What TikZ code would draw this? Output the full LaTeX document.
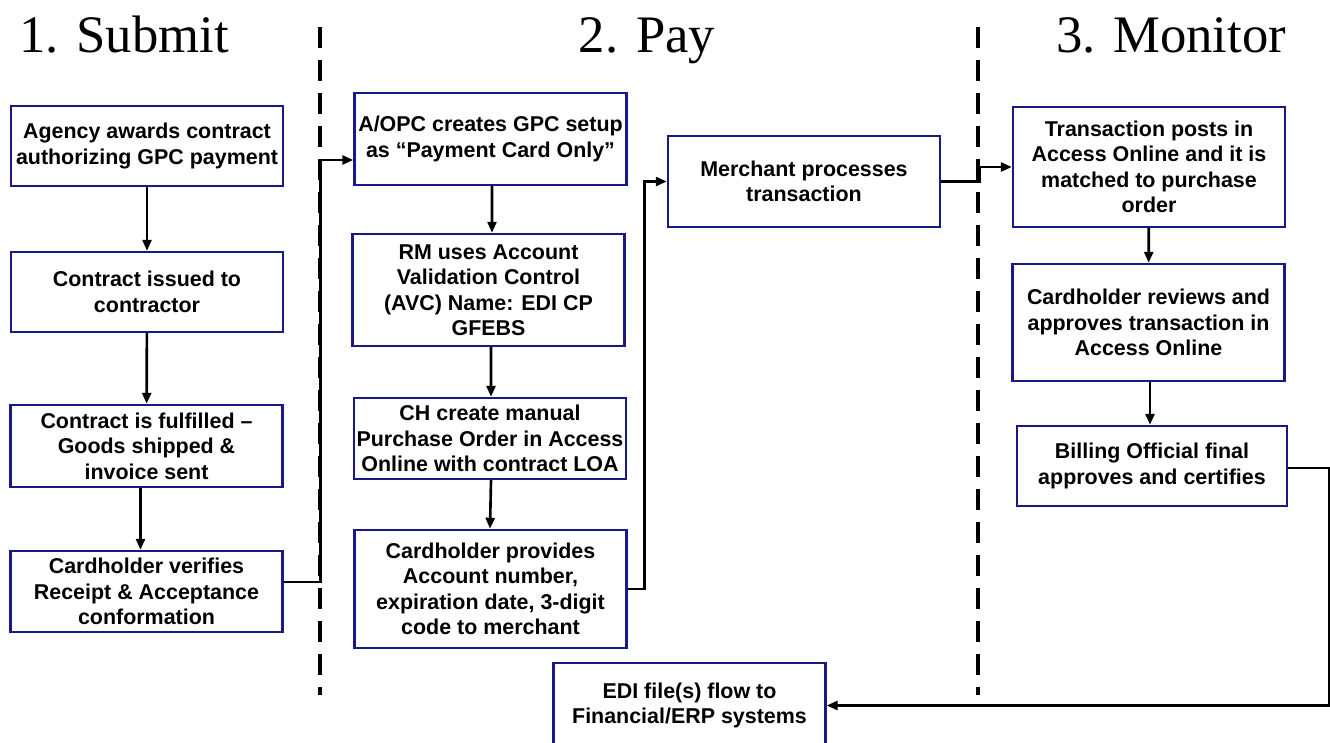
\documentclass[tikz,border=0pt]{standalone}
\usepackage{fontspec}
\setmainfont{Liberation Sans}
\newfontfamily\titlefont{Liberation Serif}
\usetikzlibrary{arrows.meta}
\definecolor{boxblue}{RGB}{24,24,135}

\begin{document}
\begin{tikzpicture}[x=0.02cm,y=-0.02cm,
    procbox/.style={draw=boxblue,line width=1.4pt,fill=white,inner sep=0pt,align=center,
      minimum width=5.44cm,font=\fontsize{12.2}{14.5}\selectfont\bfseries},
    flow/.style={-{Triangle[length=2.2mm,width=1.8mm]},line width=1.5pt},
    lane/.style={line width=2.4pt,dash pattern=on 0.42cm off 0.24cm},
    phase/.style={anchor=base,font=\titlefont\fontsize{30}{34}\selectfont}]
  \useasboundingbox (0,0) rectangle (1330,743);

  % phase titles
  \node[phase] (tsubmit)  at (124,53)  {1. Submit};
  \node[phase] (tpay)     at (647,53)  {2. Pay};
  \node[phase] (tmonitor) at (1171,53) {3. Monitor};

  % lane separators
  \draw[lane] (320,27) -- (320,695);
  \draw[lane] (978,27) -- (978,695);

  % submit
  \node[procbox,minimum height=1.6cm]  (award)   at (147,146)   {Agency awards contract\\authorizing GPC payment};
  \node[procbox,minimum height=1.6cm]  (issued)  at (147,292)   {Contract issued to\\contractor};
  \node[procbox,minimum height=1.64cm] (fulfil)  at (146.5,446) {Contract is fulfilled –\\Goods shipped \&\\invoice sent};
  \node[procbox,minimum height=1.62cm] (verify)  at (146.5,591.5) {Cardholder verifies\\Receipt \& Acceptance\\conformation};

  % pay
  \node[procbox,minimum height=1.84cm] (setup)   at (490.5,139) {A/OPC creates GPC setup\\as “Payment Card Only”};
  \node[procbox,minimum height=2.24cm] (avc)     at (488.5,290) {RM uses Account\\Validation Control\\(AVC) Name: EDI CP\\GFEBS};
  \node[procbox,minimum height=1.62cm] (order)   at (490,438.5) {CH create manual\\Purchase Order in Access\\Online with contract LOA};
  \node[procbox,minimum height=2.36cm] (provide) at (490.5,589) {Cardholder provides\\Account number,\\expiration date, 3-digit\\code to merchant};
  \node[procbox,minimum height=1.82cm] (merchant) at (804,181.5) {Merchant processes\\transaction};
  \node[procbox,minimum height=1.7cm]  (edi)     at (689.5,705.5) {EDI file(s) flow to\\Financial/ERP systems};

  % monitor
  \node[procbox,minimum height=2.4cm]  (posts)   at (1149,167)   {Transaction posts in\\Access Online and it is\\matched to purchase\\order};
  \node[procbox,minimum height=2.34cm] (review)  at (1148.5,322.5) {Cardholder reviews and\\approves transaction in\\Access Online};
  \node[procbox,minimum height=1.6cm,minimum width=5.4cm] (certify) at (1152,466) {Billing Official final\\approves and certifies};

  \draw[flow] (award) -- (issued);
  \draw[flow] (issued) -- (fulfil);
  \draw[flow] ([xshift=-0.12cm]fulfil.south) -- ([xshift=-0.12cm]verify.north);
  \draw[flow] ([yshift=0.19cm]verify.east) -- ++(37,0) |- ([yshift=-0.42cm]setup.west);
  \draw[flow] ([xshift=0.03cm]setup.south) -- ([xshift=0.07cm]avc.north);
  \draw[flow] ([xshift=0.05cm]avc.south) -- ([xshift=0.02cm]order.north);
  \draw[flow] ([xshift=0.02cm]order.south) -- (order.south |- provide.north);
  \draw[flow] (provide.east) -- ++(17,0) |- (merchant.west);
  \draw[flow] (merchant.east) -- ++(38,0) |- (posts.west);
  \draw[flow] (posts) -- (review);
  \draw[flow] ([xshift=0.03cm]review.south) -- ([xshift=0.03cm]review.south |- certify.north);
  \draw[flow] ([yshift=-0.04cm]certify.east) -- ++(41,0) |- (edi.east);
\end{tikzpicture}
\end{document}
